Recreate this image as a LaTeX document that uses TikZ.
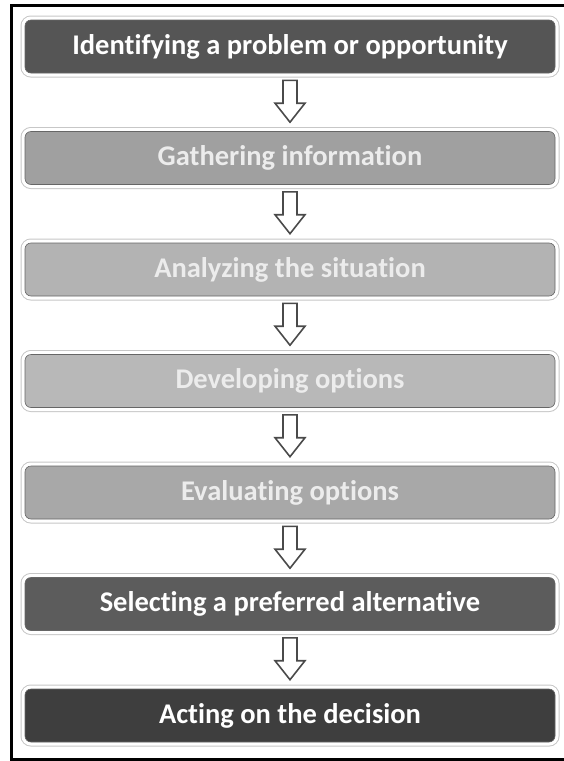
\documentclass[tikz,border=0pt]{standalone}
\usepackage{fontspec}
\setmainfont{Carlito}[Ligatures=NoCommon]
\usetikzlibrary{calc}
\definecolor{c1}{HTML}{555555}
\definecolor{c2}{HTML}{A0A0A0}
\definecolor{c3}{HTML}{B3B3B3}
\definecolor{c4}{HTML}{B8B8B8}
\definecolor{c5}{HTML}{A8A8A8}
\definecolor{c6}{HTML}{5C5C5C}
\definecolor{c7}{HTML}{3E3E3E}
\definecolor{lt}{HTML}{ECECEC}
\definecolor{arr}{HTML}{4A4A4A}
\tikzset{
  stepbox/.style={rectangle, rounded corners=6pt, minimum width=530pt, minimum height=53pt,
    inner sep=0pt, font=\fontsize{28.5}{32}\selectfont\bfseries,
    preaction={draw=black!22, line width=9pt},
    preaction={draw=white, line width=7pt},
    draw=black!60, line width=0.6pt},
  blockarrow/.style={draw=arr, line width=1.6pt, fill=white, line join=miter}
}
\newcommand{\hollowarrow}[2]{%
  \draw[blockarrow] ($(#1.south)+(-7,-7)$) -- ($(#1.south)+(7,-7)$)
    -- ($(#2.north)+(7,28)$) -- ($(#2.north)+(15,28)$)
    -- ($(#2.north)+(0,9)$) -- ($(#2.north)+(-15,28)$)
    -- ($(#2.north)+(-7,28)$) -- cycle;}
\begin{document}
\begin{tikzpicture}[x=1pt,y=1pt]
\useasboundingbox (0,0) rectangle (564,-761);
\fill[white] (0,0) rectangle (564,-761);
\draw[line width=3pt] (564,-5) -- (11.5,-5) -- (11.5,-759) -- (564,-759);
\node[stepbox, fill=c1, text=white] (b1) at (290,-46.5) {Identifying a problem or opportunity};
\node[stepbox, fill=c2, text=lt] (b2) at (290,-158) {Gathering information};
\node[stepbox, fill=c3, text=lt] (b3) at (290,-269.5) {Analyzing the situation};
\node[stepbox, fill=c4, text=lt] (b4) at (290,-381) {Developing options};
\node[stepbox, fill=c5, text=lt] (b5) at (290,-492.5) {Evaluating options};
\node[stepbox, fill=c6, text=white] (b6) at (290,-604) {Selecting a preferred alternative};
\node[stepbox, fill=c7, text=white] (b7) at (290,-715.5) {Acting on the decision};
\hollowarrow{b1}{b2}
\hollowarrow{b2}{b3}
\hollowarrow{b3}{b4}
\hollowarrow{b4}{b5}
\hollowarrow{b5}{b6}
\hollowarrow{b6}{b7}
\end{tikzpicture}
\end{document}
